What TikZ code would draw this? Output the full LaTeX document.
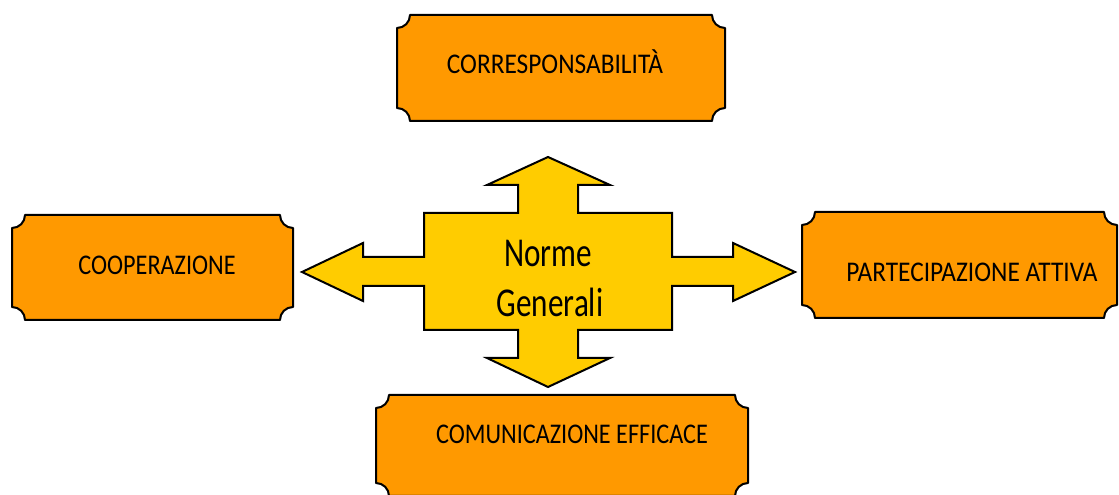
\documentclass[tikz,border=0pt]{standalone}
\usepackage{fontspec}
\newfontfamily\boxfont[FakeStretch=0.85]{Carlito}
\newfontfamily\boxfontwide[FakeStretch=0.89]{Carlito}
\newfontfamily\centerfont[FakeStretch=0.76]{Carlito}
\definecolor{boxorange}{HTML}{FF9900}
\definecolor{centeryellow}{HTML}{FFCC00}
\newcommand\plaquebox[5]{% name, x0, y0 (bottom), x1, y1 (top)
  \draw[plaque] (#2+13,#5) -- (#4-13,#5)
    arc[start angle=180,end angle=270,radius=13pt] -- (#4,#3+13)
    arc[start angle=90,end angle=180,radius=13pt] -- (#2+13,#3)
    arc[start angle=0,end angle=90,radius=13pt] -- (#2,#5-13)
    arc[start angle=270,end angle=360,radius=13pt] -- cycle;
  \coordinate (#1) at ({(#2+#4)/2},{(#3+#5)/2});}
\begin{document}
\begin{tikzpicture}[x=1pt,y=1pt,
  plaque/.style={draw=black,line width=2pt,fill=boxorange,line join=round},
  boxlabel/.style={anchor=base,inner sep=0pt,font=\boxfont\fontsize{28.5}{32}\selectfont,text=black},
  widelabel/.style={boxlabel,font=\boxfontwide\fontsize{28.5}{32}\selectfont},
  centerlabel/.style={anchor=base,inner sep=0pt,font=\centerfont\fontsize{41}{46}\selectfont,text=black},
  quadarrow/.style={draw=black,line width=2pt,fill=centeryellow,line join=miter}]
\useasboundingbox (0,0) rectangle (1119,495);
\clip (0,0) rectangle (1119,495);
% boxes
\plaquebox{topbox}{397}{374}{725}{480}
\plaquebox{leftbox}{12}{175}{293}{280}
\plaquebox{rightbox}{802}{177}{1117}{283}
\plaquebox{bottombox}{376}{-1}{748}{100}
% central four-way arrow
\draw[quadarrow] (548,338) -- (610,310) -- (578,310) -- (578,282) -- (672,282)
  -- (672,238) -- (733,238) -- (733,252) -- (795,223) -- (733,194) -- (733,209)
  -- (672,209) -- (672,165) -- (578,165) -- (578,137) -- (610,137) -- (548,108)
  -- (487,137) -- (518,137) -- (518,165) -- (424,165) -- (424,209) -- (363,209)
  -- (363,194) -- (302,223) -- (363,252) -- (363,238) -- (424,238) -- (424,282)
  -- (518,282) -- (518,310) -- (487,310) -- cycle;
% labels
\node[centerlabel] (norme) at (548,228.3) {Norme};
\node[centerlabel] (generali) at (550,178.3) {Generali};
\node[widelabel] (toplabel) at (555,421.7) {CORRESPONSABILITÀ};
\node[boxlabel] (leftlabel) at (157,220) {COOPERAZIONE};
\node[widelabel] (rightlabel) at (972,213.3) {PARTECIPAZIONE ATTIVA};
\node[boxlabel] (bottomlabel) at (572,51) {COMUNICAZIONE EFFICACE};
\end{tikzpicture}
\end{document}
